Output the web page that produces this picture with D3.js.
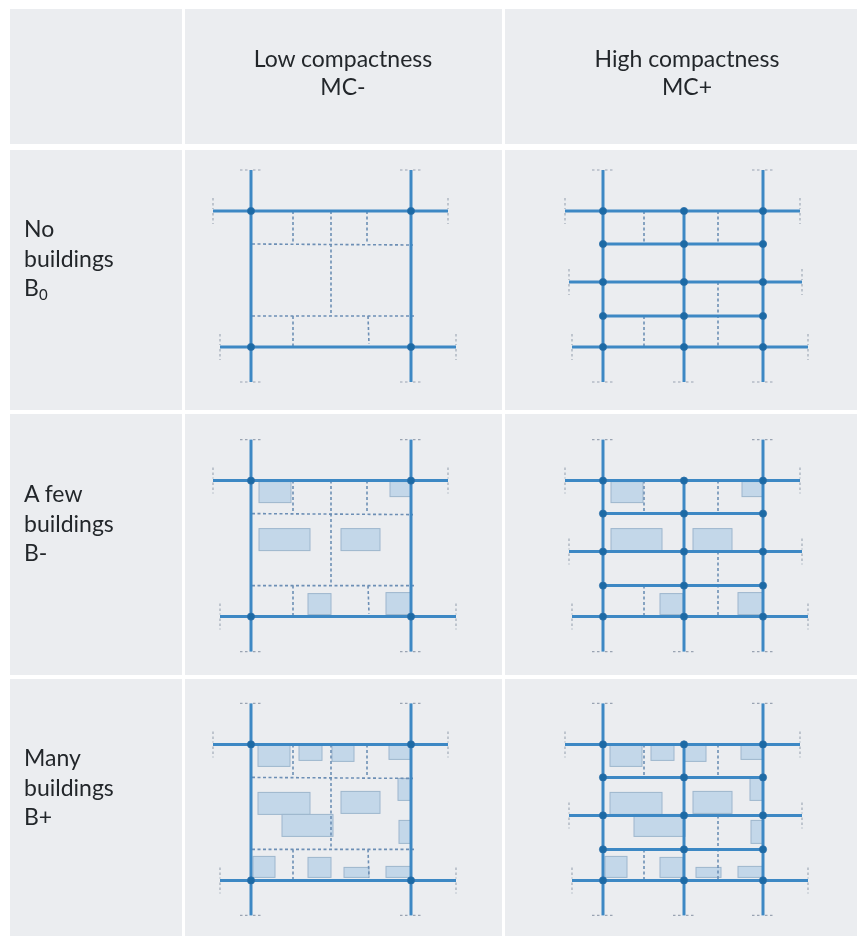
<!DOCTYPE html>
<html><head><meta charset="utf-8">
<script src="https://cdn.jsdelivr.net/npm/d3@7/dist/d3.min.js"></script>
<style>html,body{margin:0;padding:0;background:#fff}svg{display:block}</style>
</head><body><svg id="c" width="858" height="937"></svg>
<script>
// ---- data: plan units of the street diagrams ----
const columnTitles = [["Low compactness","MC-"],["High compactness","MC+"]];
const rowTitles = [["No","buildings","B|0"],["A few","buildings","B-"],["Many","buildings","B+"]];
// roads: [x1,y1,x2,y2]
const roadsLow = [[61,20,61,232],[221,20,221,232],[23,61,258,61],[30,197,266,197]];
const roadsHigh = [[61,20,61,232],[142,61,142,232],[221,20,221,232],[23,61,258,61],[61,94,221,94],[27,132,260,132],[61,166,221,166],[30,197,266,197]];
// open ends of roads that carry the small dashed end marks
const endsLow = [[61,20,"h"],[221,20,"h"],[61,232,"h"],[221,232,"h"],[23,61,"v"],[258,61,"v"],[30,197,"v"],[266,197,"v"]];
const endsHigh = [[61,20,"h"],[221,20,"h"],[61,232,"h"],[142,232,"h"],[221,232,"h"],[23,61,"v"],[258,61,"v"],[27,132,"v"],[260,132,"v"],[30,197,"v"],[266,197,"v"]];
const pathsLow = [[62,94,223,95],[62,166,224,166],[103,61,103,94],[141,61,141,166],[177,61,177,94],[103,166,103,197],[178,166,179,194]];
const pathsHigh = [[102,61,102,94],[176,61,176,94],[176,132,176,197],[102,166,102,197]];
// buildings: [x0,y0,x1,y1]
const buildingsFew = [[69,62,101,83],[200,62,221,77],[69,109,120,131],[151,109,190,131],[118,174,141,195],[196,173,221,195]];
const buildingsMany = [[68,62,100,83],[109,62,132,77],[142,62,164,78],[199,62,221,76],[208,95,221,117],[68,109,120,131],[92,131,143,153],[151,108,190,130],[209,137,221,160],[63,173,85,194],[118,174,141,194],[154,184,179,194],[196,183,221,194]];
const buildingsNone = [];
const rowBuildings = [buildingsNone, buildingsFew, buildingsMany];

// ---- layout ----
const colCells = [[10,182],[185,502],[505,857]];
const rowCells = [[9,144],[150,410],[414,675],[679,936]];
const panelX = [190,542];
const panelY = [150,419.6,683.4];
const svg = d3.select("#c");
const defs = svg.append("defs");
defs.append("filter").attr("id","soft").attr("x","-2%").attr("y","-2%").attr("width","104%").attr("height","104%")
  .append("feGaussianBlur").attr("stdDeviation",0.5);
const root = svg.append("g").attr("filter","url(#soft)");
const FONT = "Lato, 'Open Sans', sans-serif";

rowCells.forEach(r=>colCells.forEach(c=>{
  root.append("rect").attr("x",c[0]).attr("y",r[0]).attr("width",c[1]-c[0]).attr("height",r[1]-r[0]).attr("fill","#ebedf0");
}));

// titles
columnTitles.forEach((lines,i)=>{
  const cx=[343,687][i];
  root.append("g").selectAll("text").data(lines).join("text")
    .attr("x",cx).attr("y",(d,j)=>67+j*28).attr("text-anchor","middle")
    .attr("font-family",FONT).attr("font-size",23).attr("fill","#24282c").text(d=>d);
});
rowTitles.forEach((lines,i)=>{
  const y0=[237,502,766][i];
  lines.forEach((l,j)=>{
    const t=root.append("text").attr("x",24).attr("y",y0+j*29.7)
      .attr("font-family",FONT).attr("font-size",23).attr("fill","#24282c");
    const p=l.split("|");
    t.append("tspan").text(p[0]);
    if(p[1]) t.append("tspan").attr("dy",4).attr("font-size",15).text(p[1]);
  });
});

// nodes: road crossings
function crossings(roads){
  const v=roads.filter(r=>r[0]===r[2]), h=roads.filter(r=>r[1]===r[3]), out=[];
  v.forEach(a=>h.forEach(b=>{
    if(a[0]>=b[0]&&a[0]<=b[2]&&b[1]>=a[1]&&b[1]<=a[3]) out.push([a[0],b[1]]);
  }));
  return out;
}

function panel(col,row){
  const x=d3.scaleLinear().domain([0,300]).range([panelX[col],panelX[col]+300]);
  const y=d3.scaleLinear().domain([0,260]).range([panelY[row],panelY[row]+260]);
  const roads=col?roadsHigh:roadsLow, ends=col?endsHigh:endsLow, paths=col?pathsHigh:pathsLow;
  const g=root.append("g");
  g.append("g").selectAll("rect").data(rowBuildings[row]).join("rect")
    .attr("x",d=>x(d[0])).attr("y",d=>y(d[1])).attr("width",d=>x(d[2])-x(d[0])).attr("height",d=>y(d[3])-y(d[1]))
    .attr("fill","#c3d7e9").attr("stroke","#9db6cd").attr("stroke-width",1);
  g.append("g").selectAll("line").data(paths).join("line")
    .attr("x1",d=>x(d[0])).attr("y1",d=>y(d[1])).attr("x2",d=>x(d[2])).attr("y2",d=>y(d[3]))
    .attr("stroke","#6d8fb5").attr("stroke-width",1.6).attr("stroke-dasharray","3 2.5");
  g.append("g").selectAll("line").data(ends.flatMap(e=>e[2]==="h"
      ?[[e[0]-11,e[1],e[0]-2,e[1]],[e[0]+2,e[1],e[0]+11,e[1]]]
      :[[e[0],e[1]-13,e[0],e[1]-2],[e[0],e[1]+2,e[0],e[1]+13]])).join("line")
    .attr("x1",d=>x(d[0])).attr("y1",d=>y(d[1])).attr("x2",d=>x(d[2])).attr("y2",d=>y(d[3]))
    .attr("stroke","#9aa4b2").attr("stroke-width",1.1).attr("stroke-dasharray","2.5 2.5");
  g.append("g").selectAll("line").data(roads).join("line")
    .attr("x1",d=>x(d[0])).attr("y1",d=>y(d[1])).attr("x2",d=>x(d[2])).attr("y2",d=>y(d[3]))
    .attr("stroke","#3e88c4").attr("stroke-width",3);
  g.append("g").selectAll("circle").data(crossings(roads)).join("circle")
    .attr("cx",d=>x(d[0])).attr("cy",d=>y(d[1])).attr("r",3.6)
    .attr("fill","#1f6aa5").attr("stroke","#2a6fa8").attr("stroke-width",0.8);
}
[0,1,2].forEach(r=>[0,1].forEach(c=>panel(c,r)));
</script></body></html>
